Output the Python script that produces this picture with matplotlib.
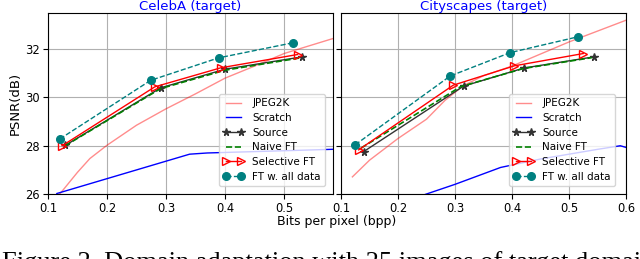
import matplotlib
matplotlib.use("Agg")
import matplotlib.pyplot as plt

# ---------------- data ----------------
titles = ["CelebA (target)", "Cityscapes (target)"]

# CelebA
c_jpeg_x = [0.12, 0.15, 0.171, 0.2, 0.25, 0.3, 0.35, 0.4, 0.45, 0.5, 0.58, 0.62]
c_jpeg_y = [26.0, 26.9, 27.47, 28.02, 28.85, 29.53, 30.15, 30.8, 31.3, 31.82, 32.42, 32.7]
c_scr_x = [0.115, 0.34, 0.37, 0.58, 0.62]
c_scr_y = [26.02, 27.65, 27.7, 27.85, 27.88]
c_src_x = [0.129, 0.291, 0.400, 0.530]
c_src_y = [28.01, 30.40, 31.17, 31.68]
c_nai_x = [0.129, 0.291, 0.400, 0.530]
c_nai_y = [28.00, 30.37, 31.13, 31.65]
c_sel_x = [0.124, 0.281, 0.393, 0.523]
c_sel_y = [28.00, 30.44, 31.23, 31.78]
c_all_x = [0.120, 0.274, 0.389, 0.516]
c_all_y = [28.28, 30.71, 31.64, 32.27]

# Cityscapes
s_jpeg_x = [0.12, 0.15, 0.2, 0.25, 0.2825, 0.3146, 0.35, 0.4, 0.45, 0.5, 0.55, 0.6]
s_jpeg_y = [26.71, 27.4, 28.3, 29.1, 29.88, 30.49, 30.9, 31.3, 31.8, 32.3, 32.75, 33.2]
s_scr_x = [0.12, 0.25, 0.3, 0.38, 0.45, 0.5, 0.55, 0.59, 0.6]
s_scr_y = [24.9, 26.0, 26.4, 27.1, 27.45, 27.65, 27.85, 28.0, 27.93]
s_src_x = [0.140, 0.315, 0.421, 0.543]
s_src_y = [27.76, 30.47, 31.22, 31.68]
s_nai_x = [0.135, 0.310, 0.420, 0.540]
s_nai_y = [27.90, 30.45, 31.20, 31.65]
s_sel_x = [0.131, 0.297, 0.404, 0.525]
s_sel_y = [27.83, 30.51, 31.31, 31.82]
s_all_x = [0.125, 0.2916, 0.397, 0.515]
s_all_y = [28.04, 30.89, 31.86, 32.51]

x_ticks = [0.1, 0.2, 0.3, 0.4, 0.5, 0.6]
y_ticks = [26, 28, 30, 32]

datasets = [
    (c_jpeg_x, c_jpeg_y, c_scr_x, c_scr_y, c_src_x, c_src_y, c_nai_x, c_nai_y,
     c_sel_x, c_sel_y, c_all_x, c_all_y, 0.583),
    (s_jpeg_x, s_jpeg_y, s_scr_x, s_scr_y, s_src_x, s_src_y, s_nai_x, s_nai_y,
     s_sel_x, s_sel_y, s_all_x, s_all_y, 0.6),
]

fig = plt.figure(figsize=(6.4, 2.59), dpi=100)
W, H = 640, 259
ax_rects = [(48, 13, 285, 181), (341, 13, 285, 181)]
legend_gap_right = [8, 11]

for i, (rect, d, title) in enumerate(zip(ax_rects, datasets, titles)):
    l, t, w, h = rect
    ax = fig.add_axes([l / W, 1 - (t + h) / H, w / W, h / H])
    (jx, jy, rx, ry, sx, sy, nx, ny, lx, ly, ax_, ay, xmax) = d
    ax.plot(jx, jy, color="red", alpha=0.45, lw=1.0, label="JPEG2K")
    ax.plot(rx, ry, color="blue", lw=1.0, label="Scratch")
    ax.plot(sx, sy, color="#333333", lw=1.0, marker="*", ms=5.5, label="Source")
    ax.plot(nx, ny, color="green", lw=1.2, ls="--", label="Naive FT")
    ax.plot(lx, ly, color="red", lw=1.0, marker=">", ms=5.5, mfc="none",
            mec="red", label="Selective FT")
    ax.plot(ax_, ay, color="teal", lw=1.0, ls="--", marker="o", ms=5.5,
            label="FT w. all data")
    ax.set_xlim(0.1, xmax)
    ax.set_ylim(26, 33.5)
    ax.set_xticks([v for v in x_ticks if v <= xmax + 1e-9])
    ax.set_yticks(y_ticks)
    ax.grid(True, color="#b0b0b0", lw=0.8)
    ax.tick_params(labelsize=8.3, pad=2.5)
    ax.set_title(title, color="blue", fontsize=9.5, pad=1)
    if i == 0:
        ax.set_ylabel("PSNR(dB)", fontsize=9.5, labelpad=2)
    else:
        ax.tick_params(labelleft=False)
    ax.legend(loc="lower right",
              bbox_to_anchor=(1 - legend_gap_right[i] / w, 8 / h),
              borderaxespad=0, fontsize=7.5, numpoints=2, handlelength=2.0,
              labelspacing=0.45, framealpha=0.8, edgecolor="#cccccc")

fig.text(337 / W, 1 - 222 / H, "Bits per pixel (bpp)", ha="center", va="center",
         fontsize=9)
fig.text(0.003, 1 - 268.5 / H,
         "Figure 2. Domain adaptation with 25 images of target domain",
         ha="left", va="baseline", fontsize=19, family="Liberation Serif")

fig.savefig("out.png", dpi=100)
